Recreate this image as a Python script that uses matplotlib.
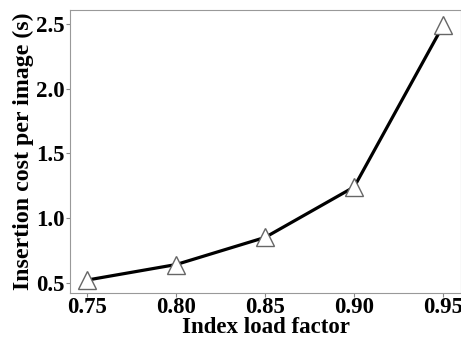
import matplotlib
matplotlib.use('Agg')
from matplotlib import pyplot as plt

load_factor = [0.75, 0.80, 0.85, 0.90, 0.95]
insert_cost = [0.52, 0.64, 0.85, 1.24, 2.49]  # seconds per image
x_ticks = [0.75, 0.80, 0.85, 0.90, 0.95]
y_ticks = [0.5, 1.0, 1.5, 2.0, 2.5]

plt.rcParams['font.family'] = ['Liberation Serif', 'DejaVu Serif']
plt.rcParams['font.weight'] = 'bold'

fig = plt.figure(figsize=(4.61, 3.39), dpi=100)
ax = fig.add_axes([70/461, 46/339, 391/461, 283/339])

ax.plot(load_factor, insert_cost, color='black', lw=2.3, marker='^',
        markersize=13, markerfacecolor='white', markeredgecolor='#666666',
        markeredgewidth=1.0)

ax.set_xlim(0.7404, 0.96)
ax.set_ylim(0.42, 2.608)
ax.set_xticks(x_ticks)
ax.set_xticklabels(['%.2f' % v for v in x_ticks])
ax.set_yticks(y_ticks)
ax.set_yticklabels(['%.1f' % v for v in y_ticks])
ax.tick_params(labelsize=16.5, length=3, color='#888888', pad=1)
ax.tick_params(axis='x', pad=0)
for sp in ax.spines.values():
    sp.set_color('#999999')

ax.set_xlabel('Index load factor', fontsize=16.5, fontweight='bold', labelpad=-1)
ax.set_ylabel('Insertion cost per image (s)', fontsize=17.2, fontweight='bold', labelpad=1)

fig.savefig('out.png', dpi=100)
